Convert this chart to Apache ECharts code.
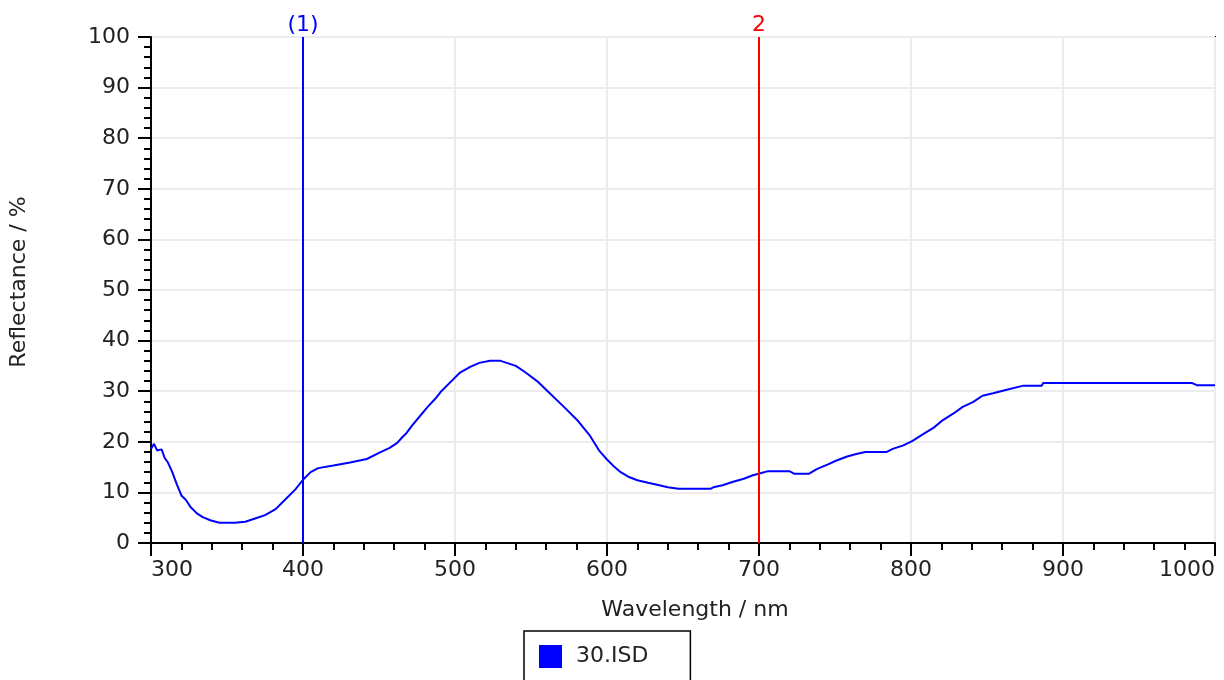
<!DOCTYPE html>
<html>
<head>
<meta charset="utf-8">
<script src="https://cdn.jsdelivr.net/npm/echarts@6/dist/echarts.min.js"></script>
<style>
html,body{margin:0;padding:0;background:#fff;}
#chart{width:1224px;height:680px;}
</style>
</head>
<body>
<div id="chart"></div>
<script>
var wavelengths = [300,302,304,307,309,311,314,317,320,323,326,330,334,339,345,355,362,368,375,382,388,395,400,405,410,420,431,442,450,457,462,465,468,472,477,482,487,491,497,503,510,516,523,530,533,540,546,554,562,572,581,589,595,600,605,609,614,620,627,633,640,647,668,670,676,683,690,696,701,706,720,723,733,738,745,751,758,764,770,784,788,795,801,808,815,821,828,834,841,847,854,863,874,886,887,985,988,1000];
var reflectance = [18.6,19.6,18.3,18.5,16.8,16.0,14.0,11.6,9.4,8.5,7.1,5.9,5.1,4.5,4.0,4.0,4.2,4.8,5.5,6.7,8.5,10.6,12.5,14.0,14.8,15.3,15.9,16.6,17.8,18.8,19.8,20.8,21.7,23.3,25.1,26.9,28.5,30.0,31.8,33.6,34.8,35.6,36.0,36.0,35.7,35.0,33.8,32.0,29.7,26.8,24.1,21.1,18.2,16.5,15.0,14.0,13.1,12.4,11.9,11.5,11.0,10.7,10.7,11.0,11.4,12.1,12.7,13.4,13.8,14.2,14.2,13.7,13.7,14.6,15.5,16.3,17.1,17.6,18.0,18.0,18.6,19.3,20.2,21.5,22.8,24.3,25.6,26.9,27.9,29.1,29.6,30.3,31.1,31.1,31.6,31.6,31.2,31.2];
var seriesName = '30.ISD';
var markerPositions = [400, 700];
var markerLabels = ['(1)', '2'];
var markerColors = ['#0000ff', '#ff0000'];
var xTitle = 'Wavelength / nm';
var yTitle = 'Reflectance / %';

var FONT = 'DejaVu Sans';
var FS = 22;
var chart = echarts.init(document.getElementById('chart'), null, {renderer: 'canvas'});
var lineData = wavelengths.map(function (w, i) { return [w, reflectance[i]]; });
var markData = markerPositions.map(function (p, i) {
  return {
    xAxis: p,
    lineStyle: {color: markerColors[i], width: 2, type: 'solid'},
    label: {show: true, position: 'end', formatter: markerLabels[i], color: markerColors[i], fontFamily: FONT, fontSize: FS, distance: 1}
  };
});

chart.setOption({
  animation: false,
  backgroundColor: '#fff',
  grid: {left: 151, right: 9, top: 37, bottom: 137, show: true, borderColor: '#000', borderWidth: 2, backgroundColor: 'transparent'},
  xAxis: {
    type: 'value', min: 300, max: 1000, interval: 100,
    axisLine: {show: true, onZero: false, lineStyle: {color: '#000', width: 2}},
    axisTick: {show: true, inside: false, length: 13, lineStyle: {color: '#000', width: 2}},
    minorTick: {show: true, splitNumber: 5, length: 7, lineStyle: {color: '#000', width: 2}},
    splitLine: {show: true, lineStyle: {color: '#ececec', width: 2}},
    axisLabel: {color: '#222', fontFamily: FONT, fontSize: FS, margin: 16, alignMinLabel: 'left', alignMaxLabel: 'right',
      formatter: function (v) { return String(v); }}
  },
  yAxis: {
    type: 'value', min: 0, max: 100, interval: 10,
    axisLine: {show: true, onZero: false, lineStyle: {color: '#000', width: 2}},
    axisTick: {show: true, inside: false, length: 13, lineStyle: {color: '#000', width: 2}},
    minorTick: {show: true, splitNumber: 5, length: 7, lineStyle: {color: '#000', width: 2}},
    splitLine: {show: true, lineStyle: {color: '#ececec', width: 2}},
    axisLabel: {color: '#222', fontFamily: FONT, fontSize: FS, margin: 21, formatter: function (v) { return String(v); }}
  },
  legend: {
    show: true, left: 524, top: 631, orient: 'horizontal',
    data: [{name: seriesName, icon: 'rect'}],
    itemWidth: 23, itemHeight: 23,
    padding: [14, 42, 40, 15],
    borderColor: '#000', borderWidth: 1.5, backgroundColor: '#fff',
    textStyle: {color: '#222', fontFamily: FONT, fontSize: FS, padding: [0, 0, 0, 9]}
  },
  graphic: [
    {type: 'text', x: 695, y: 610, style: {text: xTitle, fill: '#222', font: FS + 'px "DejaVu Sans"', textAlign: 'center', textVerticalAlign: 'middle'}},
    {type: 'text', rotation: Math.PI / 2, x: 19, y: 282, style: {text: yTitle, fill: '#222', font: FS + 'px "DejaVu Sans"', textAlign: 'center', textVerticalAlign: 'middle'}}
  ],
  series: [{
    name: seriesName, type: 'line', data: lineData, showSymbol: false, symbol: 'none',
    color: '#0000ff',
    lineStyle: {color: '#0000ff', width: 2},
    markLine: {symbol: ['none', 'none'], silent: true, animation: false, data: markData}
  }]
});
</script>
</body>
</html>
